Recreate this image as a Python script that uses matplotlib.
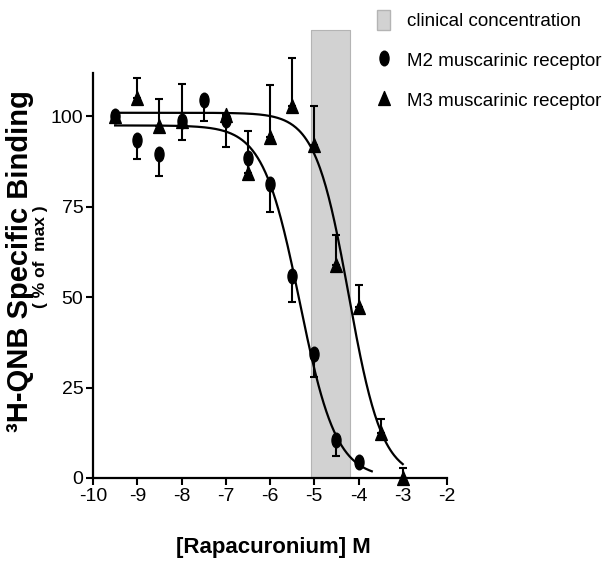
import numpy as np
import matplotlib
matplotlib.use("Agg")
import matplotlib.pyplot as plt
from matplotlib.path import Path
from matplotlib.patches import Patch
from matplotlib.lines import Line2D

plt.rcParams['font.family'] = ['Liberation Sans', 'DejaVu Sans']

# M2 muscarinic receptor (circles), error bars drawn downward
m2_x = [-9.5, -9.0, -8.5, -8.0, -7.5, -7.0, -6.5, -6.0, -5.5, -5.0, -4.5, -4.0]
m2_y = [100.0, 93.4, 89.7, 98.7, 104.4, 98.9, 88.4, 81.4, 55.8, 34.3, 10.5, 4.5]
m2_err = [0.0, 5.1, 6.2, 5.1, 5.7, 7.3, 5.4, 7.9, 7.0, 6.4, 4.3, 0.0]

# M3 muscarinic receptor (triangles), error bars drawn upward
m3_x = [-9.5, -9.0, -8.5, -8.0, -7.0, -6.5, -6.0, -5.5, -5.0, -4.5, -4.0, -3.5, -3.0]
m3_y = [100.0, 105.2, 97.3, 98.7, 100.5, 84.4, 94.3, 102.9, 92.2, 59.0, 47.3, 12.4, 0.0]
m3_err = [0.0, 5.5, 7.6, 10.3, 0.0, 11.5, 14.4, 13.3, 10.7, 8.3, 6.0, 3.8, 2.7]

# fitted sigmoid parameters: top, logIC50, hill slope, x range
m2_fit = dict(top=97.5, logic50=-5.33, hill=1.05, x0=-9.5, x1=-3.7)
m3_fit = dict(top=101.0, logic50=-4.22, hill=1.15, x0=-9.5, x1=-3.0)

clinical = (-5.08, -4.2)
clinical_top = 124

xticks = [-10, -9, -8, -7, -6, -5, -4, -3, -2]
yticks = [0, 25, 50, 75, 100]

ellipse = Path.unit_circle()
ellipse = Path(ellipse.vertices * [0.62, 1.0], ellipse.codes)
tri = Path([(-0.42, -0.5), (0.42, -0.5), (0.0, 0.5), (-0.42, -0.5)],
           [Path.MOVETO, Path.LINETO, Path.LINETO, Path.CLOSEPOLY])


def curve(p):
    x = np.linspace(p['x0'], p['x1'], 300)
    return x, p['top'] / (1 + 10 ** ((x - p['logic50']) * p['hill']))


fig = plt.figure(figsize=(6.15, 5.75), dpi=100)
ax = fig.add_axes([93 / 615, 97 / 575, 354 / 615, 405 / 575])

band = ax.fill_between(list(clinical), 0, clinical_top, facecolor='#d2d2d2',
                       edgecolor='#b4b4b4', lw=0.8, zorder=1)
band.set_clip_on(False)

for p in (m2_fit, m3_fit):
    cx, cy = curve(p)
    ax.plot(cx, cy, color='black', lw=1.6, zorder=2, clip_on=False)

ax.errorbar(m2_x, m2_y, yerr=[m2_err, [0] * len(m2_err)], fmt='none', ecolor='black',
            elinewidth=1.5, capsize=3, capthick=1.5, zorder=3, clip_on=False)
ax.errorbar(m3_x, m3_y, yerr=[[0] * len(m3_err), m3_err], fmt='none', ecolor='black',
            elinewidth=1.5, capsize=3, capthick=1.5, zorder=3, clip_on=False)
ax.plot(m2_x, m2_y, ls='none', marker=ellipse, ms=10.5, color='black', zorder=4, clip_on=False)
ax.plot(m3_x, m3_y, ls='none', marker=tri, ms=10, color='black', zorder=4, clip_on=False)

ax.set_xlim(-10, -2)
ax.set_ylim(0, 112)
ax.set_xticks(xticks)
ax.set_yticks(yticks)
ax.set_xticklabels([str(t) for t in xticks])
ax.set_yticklabels([str(t) for t in yticks])
ax.tick_params(direction='out', length=5, width=1.5, labelsize=14, pad=2)
for s in ('top', 'right'):
    ax.spines[s].set_visible(False)
for s in ('left', 'bottom'):
    ax.spines[s].set_linewidth(1.6)

fig.text(273 / 615, 1 - 548 / 575, '[Rapacuronium] M', ha='center', va='center',
         fontsize=16, fontweight='bold')
fig.text(20 / 615, 1 - 261 / 575, '\u00b3H-QNB Specific Binding', rotation=90,
         ha='center', va='center', fontsize=21, fontweight='bold')
fig.text(41 / 615, 1 - 257 / 575, '( % of  max )', rotation=90, ha='center', va='center',
         fontsize=12.5, fontweight='bold')

handles = [Patch(facecolor='#d2d2d2', edgecolor='#b4b4b4'),
           Line2D([], [], ls='none', marker=ellipse, ms=10.5, color='black'),
           Line2D([], [], ls='none', marker=tri, ms=10, color='black')]
labels = ['clinical concentration', 'M2 muscarinic receptor', 'M3 muscarinic receptor']
fig.legend(handles, labels, loc='upper left', bbox_to_anchor=(377 / 615, 1 - 10 / 575),
           frameon=False, fontsize=13.5, handlelength=0.7, handleheight=1.3,
           handletextpad=0.9, labelspacing=1.02, borderpad=0, borderaxespad=0)

fig.savefig('out.png', dpi=100)
